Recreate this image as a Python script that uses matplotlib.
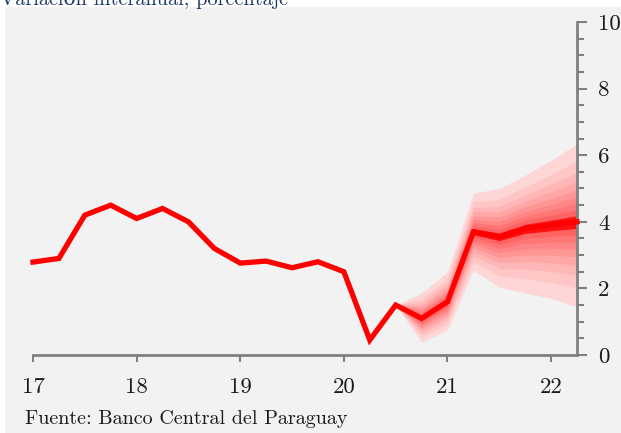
import matplotlib
matplotlib.use("Agg")
import matplotlib.pyplot as plt
import numpy as np
from matplotlib.patches import Rectangle
from matplotlib.ticker import MultipleLocator

plt.rcParams['font.family'] = ['cmr10', 'DejaVu Serif']
plt.rcParams['axes.unicode_minus'] = False

# Inflación interanual trimestral (porcentaje), 2017T1 - 2022T2
trimestres = np.arange(17, 22.5, 0.25)
inflacion = [2.79, 2.90, 4.20, 4.50, 4.10, 4.40, 4.00, 3.20, 2.76, 2.82, 2.62,
             2.80, 2.50, 0.45, 1.50, 1.10, 1.60, 3.70, 3.55, 3.80, 3.90, 4.00]

# Proyección: abanico desde 2020T3
proy_x = [20.5, 20.75, 21.0, 21.25, 21.5, 21.75, 22.0, 22.25]
proy_centro = [1.50, 1.10, 1.60, 3.70, 3.55, 3.80, 3.90, 4.00]
proy_sup = [1.50, 1.86, 2.50, 4.86, 5.00, 5.40, 5.85, 6.34]
proy_inf = [1.50, 0.39, 0.75, 2.55, 2.04, 1.86, 1.70, 1.44]
# cuantiles normales (10%..90%) relativos al de 90%
niveles = [1.0, 0.780, 0.630, 0.512, 0.410, 0.319, 0.234, 0.154, 0.077]
colores = ['#ffd6d6', '#ffc6c6', '#ffb6b6', '#ffa6a6', '#ff9696',
           '#ff8686', '#ff7676', '#ff6464', '#ff1010']

fig = plt.figure(figsize=(6.21, 4.33), dpi=100)
fig.patches.append(Rectangle((5 / 621, 0), 1, 1 - 7 / 433, transform=fig.transFigure,
                             facecolor='#f2f2f2', edgecolor='none', zorder=-1))
ax = fig.add_axes([33 / 621, 78 / 433, 544 / 621, 333 / 433])
ax.set_zorder(2)
ax.set_facecolor('#f2f2f2')

c = np.array(proy_centro)
sup = np.array(proy_sup) - c
inf = c - np.array(proy_inf)
for k, col in zip(niveles, colores):
    ax.fill_between(proy_x, c - k * inf, c + k * sup, color=col, lw=0, zorder=2)

ax.plot(trimestres, inflacion, color='#ff0000', lw=3.8, zorder=3,
        solid_joinstyle='miter', clip_on=False)

ax.set_xlim(17, 22.25)
ax.set_ylim(0, 10)
ax.set_xticks([17, 18, 19, 20, 21, 22])
ax.yaxis.tick_right()
ax.yaxis.set_major_locator(MultipleLocator(2))
ax.yaxis.set_minor_locator(MultipleLocator(0.5))
ax.tick_params(axis='y', which='major', length=7, width=1.5, color='#808080',
               labelsize=16.5, pad=8, labelcolor='#1a1a1a')
ax.tick_params(axis='y', which='minor', length=5, width=1.5, color='#808080')
ax.tick_params(axis='x', length=5, width=1.5, color='#808080', labelsize=16.5,
               pad=11, labelcolor='#1a1a1a')
for s in ['left', 'top']:
    ax.spines[s].set_visible(False)
for s in ['bottom', 'right']:
    ax.spines[s].set_color('#808080')
    ax.spines[s].set_linewidth(2)

fig.text(0, 1 - 5 / 433, 'Variación interanual, porcentaje', color='#1f3864',
         fontsize=14.6, va='baseline', ha='left')
fig.text(25 / 621, 9 / 433, 'Fuente: Banco Central del Paraguay', color='#1a1a1a',
         fontsize=14.5, va='baseline', ha='left')

fig.savefig('out.png', dpi=100)
